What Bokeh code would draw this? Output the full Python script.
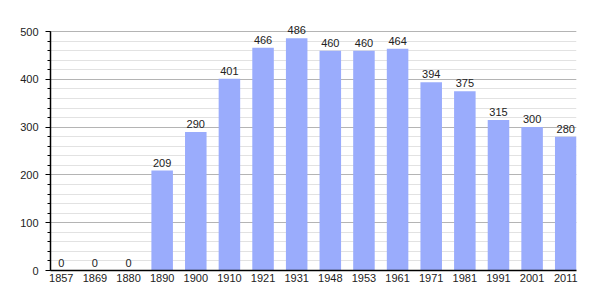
from bokeh.plotting import figure
from bokeh.models import ColumnDataSource, FixedTicker, Range1d
from bokeh.embed import file_html
from bokeh.resources import INLINE
from bokeh.core.properties import value

years = ["1857", "1869", "1880", "1890", "1900", "1910", "1921", "1931",
         "1948", "1953", "1961", "1971", "1981", "1991", "2001", "2011"]
population = [0, 0, 0, 209, 290, 401, 466, 486, 460, 460, 464, 394, 375, 315, 300, 280]

idx = list(range(len(years)))
src = ColumnDataSource(dict(x=idx, y=population, label=[str(v) for v in population]))

bw = 0.64
p = figure(width=605, height=300, output_backend="svg", toolbar_location=None,
           x_range=Range1d(-bw / 2, len(years) - 1 + bw / 2), y_range=Range1d(0, 544),
           min_border_left=50, min_border_right=29, min_border_top=10, min_border_bottom=30)
p.outline_line_color = None
p.background_fill_color = "white"
p.border_fill_color = "white"

p.vbar(x="x", top="y", width=bw, source=src, color="#9aacfc", line_color=None)
p.text(x="x", y="y", text="label", source=src, text_align="center", text_baseline="bottom",
       y_offset=-4, text_font=value("Liberation Sans"), text_font_size="11px", text_color="#222222")

p.xgrid.visible = False
p.ygrid.grid_line_color = "#b4b4b4"
p.ygrid.minor_grid_line_color = "#e2e2e2"
p.ygrid.level = "underlay"
p.ygrid.bounds = (0, 500)

p.xaxis.ticker = FixedTicker(ticks=idx)
p.xaxis.major_label_overrides = {i: y for i, y in enumerate(years)}
p.xaxis.major_tick_line_color = None
p.xaxis.minor_tick_line_color = None
p.xaxis.major_tick_out = 0
p.xaxis.major_tick_in = 0
p.xaxis.minor_tick_out = 0
p.xaxis.minor_tick_in = 0
p.xaxis.major_label_standoff = 3

p.yaxis.ticker = FixedTicker(ticks=[0, 100, 200, 300, 400, 500],
                             minor_ticks=list(range(0, 501, 20)))
p.yaxis.bounds = (0, 500)
p.yaxis.major_tick_out = 5
p.yaxis.major_tick_in = 0
p.yaxis.minor_tick_out = 3
p.yaxis.minor_tick_in = 0
p.yaxis.major_label_standoff = 7

for ax in (p.xaxis, p.yaxis):
    ax.axis_line_color = "black"
    ax.axis_line_width = 1.5
    ax.major_label_text_font = "Liberation Sans"
    ax.major_label_text_font_size = "11px"
    ax.major_label_text_color = "#222222"

open("out.html", "w").write(file_html(p, INLINE))
